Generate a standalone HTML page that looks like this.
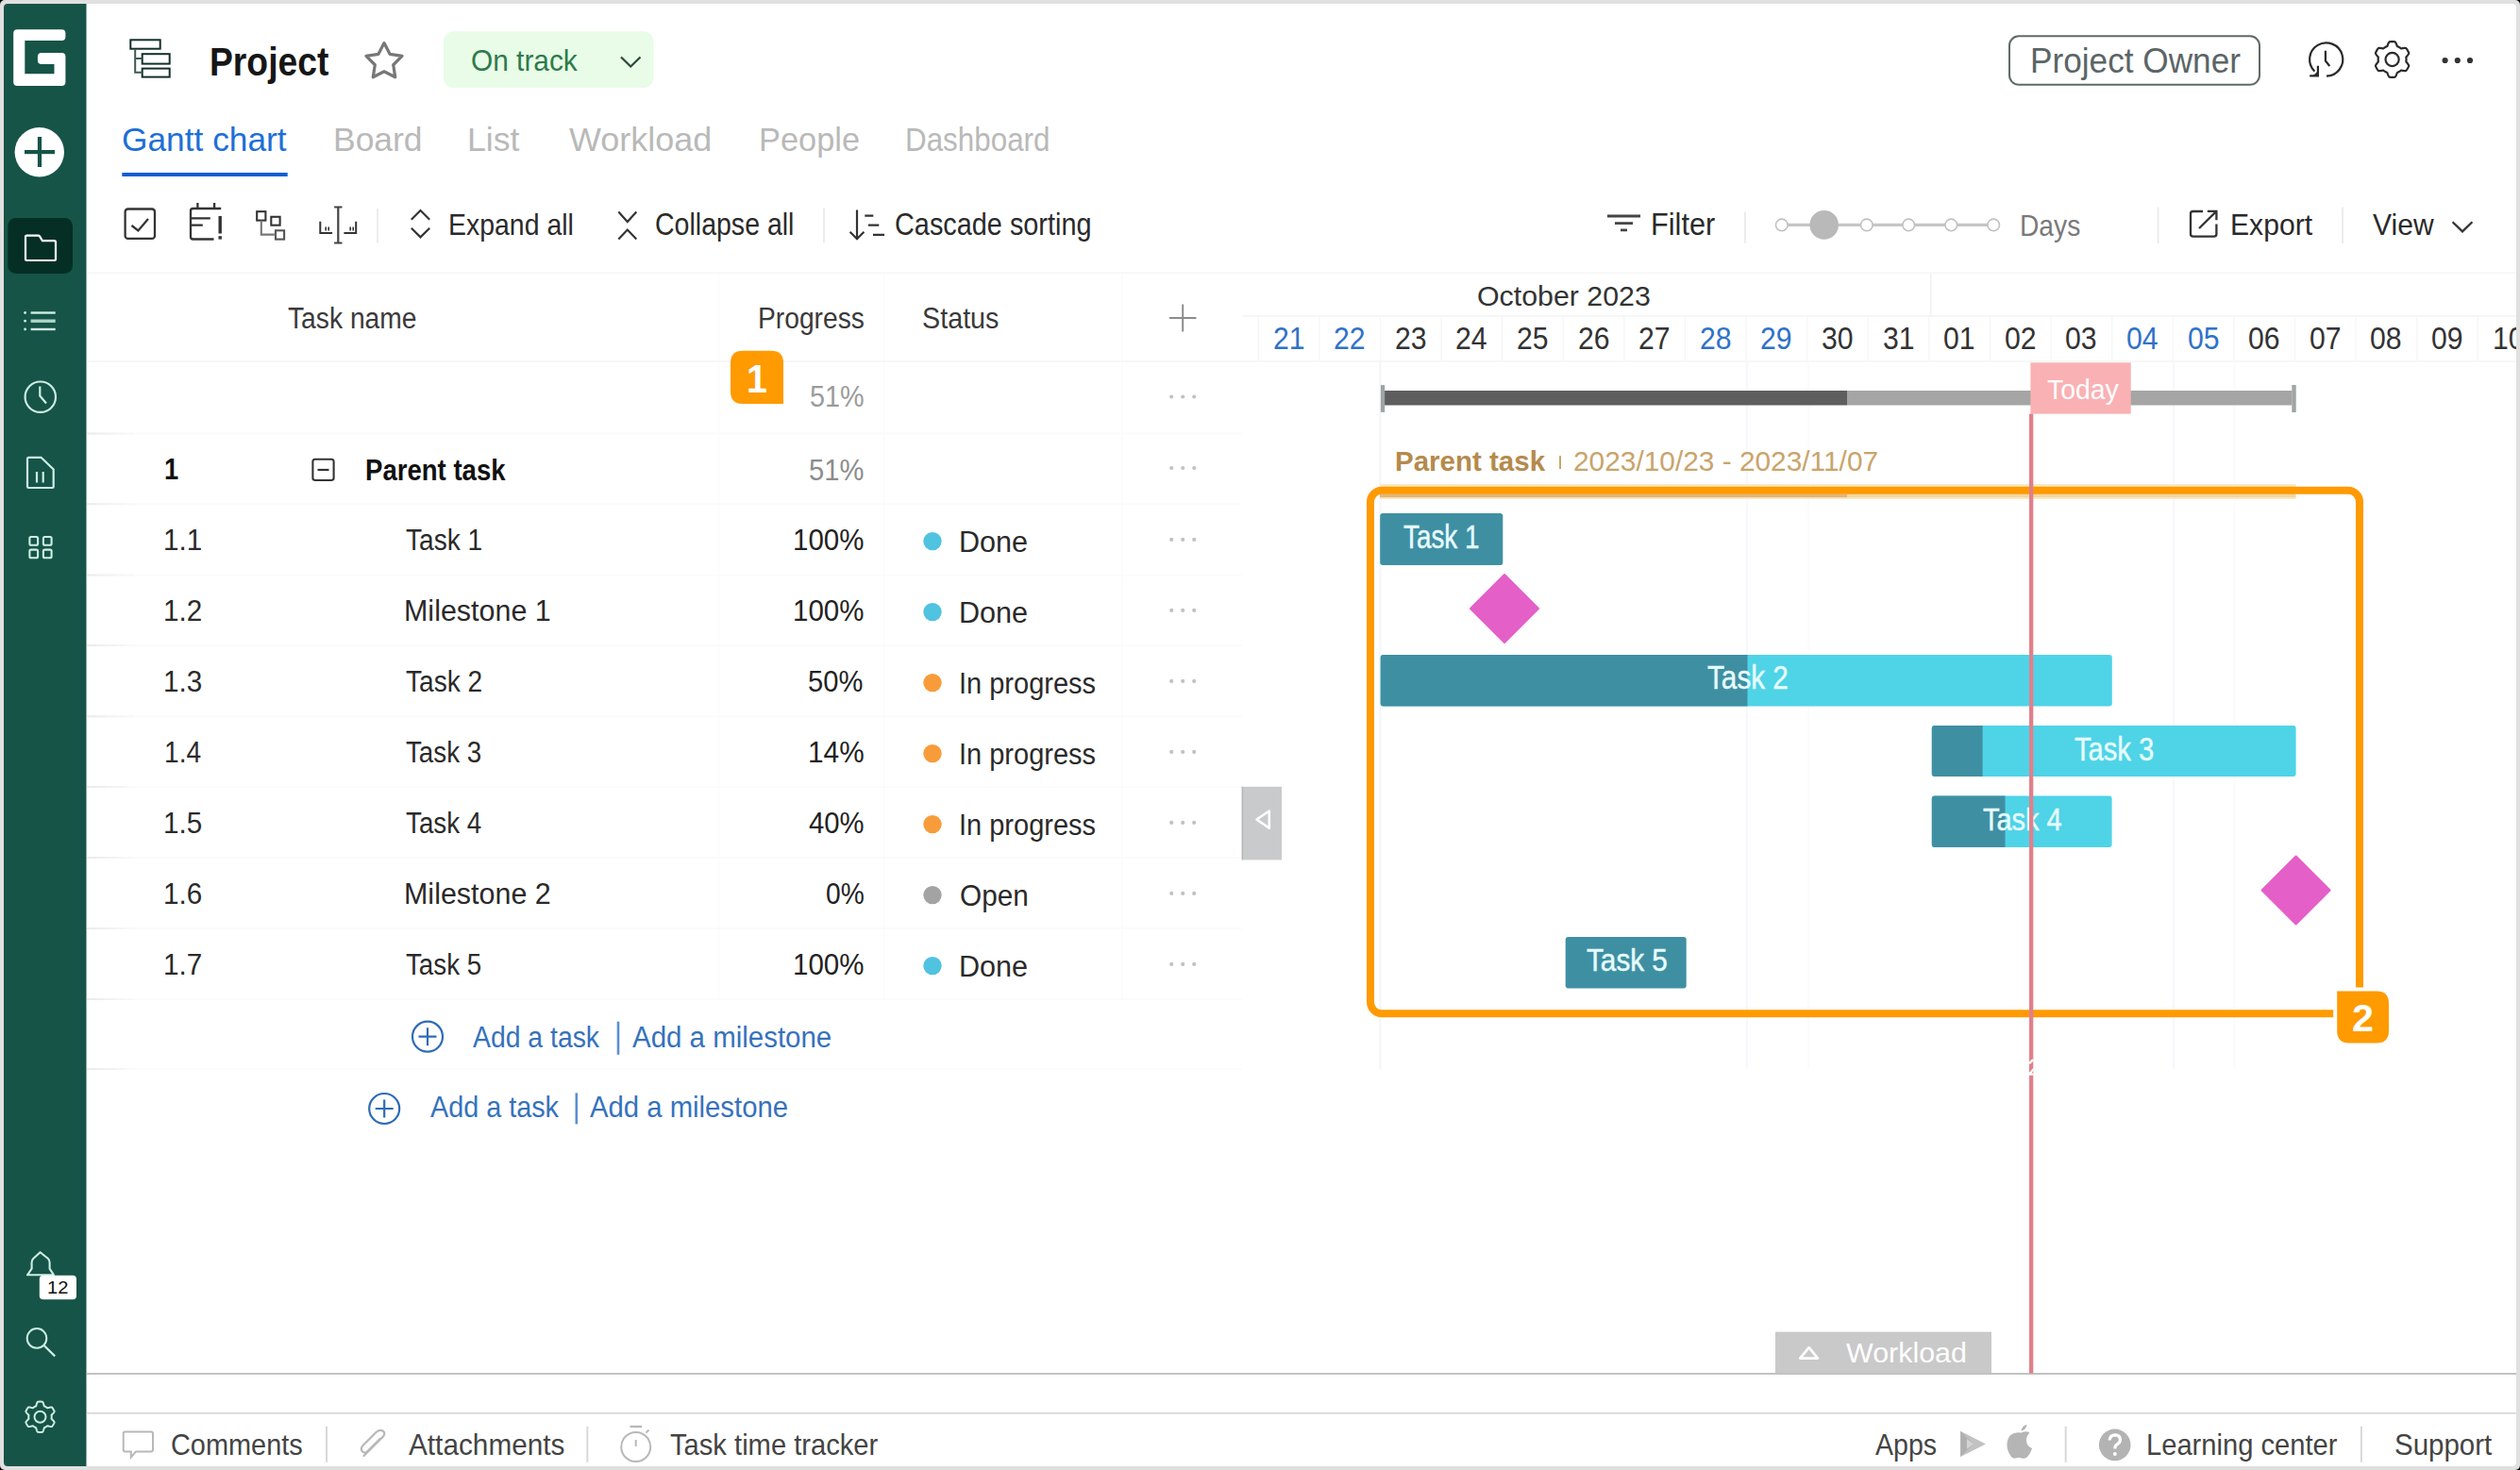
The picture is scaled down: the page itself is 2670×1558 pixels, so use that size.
<!DOCTYPE html>
<html><head><meta charset="utf-8"><title>Gantt</title><style>
*{margin:0;padding:0;box-sizing:border-box}
html,body{width:2670px;height:1558px;overflow:hidden;background:#000}
body{position:relative;font-family:"Liberation Sans",sans-serif}
.a{position:absolute}
.t{position:absolute;white-space:nowrap;line-height:1;transform-origin:0 0}
</style></head><body>
<div class="a" style="left:0;top:0;width:2670px;height:1558px;background:#e0e0e0;border-radius:5px"></div>
<div class="a" style="left:4px;top:4px;width:2662px;height:1550.3px;background:#fff;border-radius:4px"></div>
<svg class="a" style="left:0;top:0" width="2670" height="1558" viewBox="0 0 2670 1558">
<path d="M8,4 H91.5 V1554 H8 Q4,1554 4,1550 V8 Q4,4 8,4 Z" fill="#165447"/>
<path d="M18.2,31.2 H65.4 Q69.4,31.2 69.4,35.2 V39.1 Q69.4,43.1 65.4,43.1 H26.3 V78.3 H57.5 V68.1 H43.9 Q39.9,68.1 39.9,64.1 V60 Q39.9,56 43.9,56 H65.4 Q69.4,56 69.4,60 V87 Q69.4,91 65.4,91 H18.2 Q14.2,91 14.2,87 V35.2 Q14.2,31.2 18.2,31.2 Z" fill="#fff"/>
<circle cx="41.8" cy="161.2" r="26.2" fill="#fff"/>
<rect x="26" y="159" width="32" height="4.2" fill="#165447"/><rect x="39.9" y="145" width="4.2" height="32" fill="#165447"/>
<rect x="8.3" y="231" width="68.7" height="59" rx="8.5" fill="#052f25"/>
<path d="M28.5,249.6 H40.5 Q41.5,249.6 42.2,250.6 L45,255.2 H57.5 Q59,255.2 59,256.7 V274.6 Q59,276 57.5,276 H28.5 Q27,276 27,274.6 V251.1 Q27,249.6 28.5,249.6 Z" fill="none" stroke="#fff" stroke-width="2.2"/>
<circle cx="26.6" cy="331.5" r="1.4" fill="#cdeee4"/>
<circle cx="26.6" cy="340.2" r="1.4" fill="#cdeee4"/>
<circle cx="26.6" cy="349.0" r="1.4" fill="#cdeee4"/>
<line x1="32.6" y1="331.5" x2="58.7" y2="331.5" stroke="#cdeee4" stroke-width="2.4"/>
<line x1="32.6" y1="340.2" x2="58.7" y2="340.2" stroke="#a9d9ca" stroke-width="3.4"/>
<line x1="32.6" y1="349" x2="58.7" y2="349" stroke="#cdeee4" stroke-width="2.4"/>
<circle cx="42.8" cy="420.7" r="16.2" fill="none" stroke="#cdeee4" stroke-width="2.2"/>
<path d="M42.3,409.5 V419.5 L49,427.5" fill="none" stroke="#cdeee4" stroke-width="2.2"/>
<path d="M30.3,484.8 H43.5 L56.7,497.5 V515.6 Q56.7,517 55.3,517 H30.3 Q29,517 29,515.6 V486.2 Q29,484.8 30.3,484.8 Z" fill="none" stroke="#cdeee4" stroke-width="2.2"/>
<line x1="39" y1="500" x2="39" y2="511.5" stroke="#cdeee4" stroke-width="2.2"/><line x1="45.7" y1="500" x2="45.7" y2="511.5" stroke="#cdeee4" stroke-width="2.2"/>
<rect x="31.4" y="569.0" width="8.7" height="8.7" rx="1.5" fill="none" stroke="#cdeee4" stroke-width="2.1"/>
<rect x="45.9" y="569.0" width="8.7" height="8.7" rx="1.5" fill="none" stroke="#cdeee4" stroke-width="2.1"/>
<rect x="31.4" y="582.6" width="8.7" height="8.7" rx="1.5" fill="none" stroke="#cdeee4" stroke-width="2.1"/>
<rect x="45.9" y="582.6" width="8.7" height="8.7" rx="1.5" fill="none" stroke="#cdeee4" stroke-width="2.1"/>
<path d="M42.6,1327.2 L35.2,1334 Q33.6,1335.6 33.6,1338 V1344.6 L29,1351.3 H57 L52.6,1344.6 V1338 Q52.6,1335.6 51,1334 Z" fill="none" stroke="#cdeee4" stroke-width="2.1" stroke-linejoin="round"/>
<rect x="41.8" y="1351.8" width="39.2" height="25.4" rx="4" fill="#fff"/>
<circle cx="39" cy="1418.4" r="10.3" fill="none" stroke="#cdeee4" stroke-width="2"/><line x1="46.4" y1="1425.8" x2="58.2" y2="1437.4" stroke="#cdeee4" stroke-width="2.2"/>
<path d="M42.50,1485.55 L42.78,1485.55 L43.07,1485.56 L43.35,1485.57 L43.63,1485.59 L43.91,1485.61 L44.19,1485.64 L44.47,1485.67 L44.75,1485.71 L45.03,1485.75 L45.28,1485.99 L45.49,1486.37 L45.68,1486.77 L45.86,1487.18 L46.03,1487.61 L46.18,1488.03 L46.31,1488.46 L46.43,1488.89 L46.54,1489.30 L46.65,1489.71 L46.74,1490.10 L46.87,1490.36 L47.07,1490.44 L47.27,1490.52 L47.46,1490.60 L47.66,1490.69 L47.85,1490.78 L48.04,1490.88 L48.23,1490.98 L48.41,1491.08 L48.60,1491.18 L48.78,1491.29 L48.97,1491.40 L49.14,1491.52 L49.32,1491.64 L49.50,1491.76 L49.67,1491.88 L49.84,1492.01 L50.01,1492.14 L50.18,1492.27 L50.47,1492.25 L50.86,1492.14 L51.26,1492.02 L51.67,1491.91 L52.10,1491.81 L52.54,1491.71 L52.99,1491.62 L53.43,1491.56 L53.88,1491.50 L54.32,1491.47 L54.76,1491.47 L55.09,1491.56 L55.27,1491.78 L55.44,1492.00 L55.61,1492.23 L55.77,1492.46 L55.93,1492.69 L56.09,1492.93 L56.24,1493.17 L56.39,1493.41 L56.53,1493.65 L56.67,1493.90 L56.80,1494.14 L56.93,1494.40 L57.06,1494.65 L57.18,1494.90 L57.30,1495.16 L57.41,1495.42 L57.52,1495.68 L57.62,1495.94 L57.54,1496.28 L57.31,1496.65 L57.06,1497.02 L56.80,1497.38 L56.51,1497.73 L56.22,1498.07 L55.91,1498.41 L55.61,1498.72 L55.30,1499.03 L55.00,1499.32 L54.71,1499.60 L54.55,1499.84 L54.58,1500.05 L54.61,1500.26 L54.63,1500.47 L54.65,1500.69 L54.67,1500.90 L54.68,1501.11 L54.69,1501.32 L54.70,1501.54 L54.70,1501.75 L54.70,1501.96 L54.69,1502.18 L54.68,1502.39 L54.67,1502.60 L54.65,1502.81 L54.63,1503.03 L54.61,1503.24 L54.58,1503.45 L54.55,1503.66 L54.71,1503.90 L55.00,1504.18 L55.30,1504.47 L55.61,1504.78 L55.91,1505.09 L56.22,1505.43 L56.51,1505.77 L56.80,1506.12 L57.06,1506.48 L57.31,1506.85 L57.54,1507.22 L57.62,1507.56 L57.52,1507.82 L57.41,1508.08 L57.30,1508.34 L57.18,1508.60 L57.06,1508.85 L56.93,1509.10 L56.80,1509.36 L56.67,1509.60 L56.53,1509.85 L56.39,1510.09 L56.24,1510.33 L56.09,1510.57 L55.93,1510.81 L55.77,1511.04 L55.61,1511.27 L55.44,1511.50 L55.27,1511.72 L55.09,1511.94 L54.76,1512.03 L54.32,1512.03 L53.88,1512.00 L53.43,1511.94 L52.99,1511.88 L52.54,1511.79 L52.10,1511.69 L51.67,1511.59 L51.26,1511.48 L50.86,1511.36 L50.47,1511.25 L50.18,1511.23 L50.01,1511.36 L49.84,1511.49 L49.67,1511.62 L49.50,1511.74 L49.32,1511.86 L49.14,1511.98 L48.97,1512.10 L48.78,1512.21 L48.60,1512.32 L48.41,1512.42 L48.23,1512.52 L48.04,1512.62 L47.85,1512.72 L47.66,1512.81 L47.46,1512.90 L47.27,1512.98 L47.07,1513.06 L46.87,1513.14 L46.74,1513.40 L46.65,1513.79 L46.54,1514.20 L46.43,1514.61 L46.31,1515.04 L46.18,1515.47 L46.03,1515.89 L45.86,1516.32 L45.68,1516.73 L45.49,1517.13 L45.28,1517.51 L45.03,1517.75 L44.75,1517.79 L44.47,1517.83 L44.19,1517.86 L43.91,1517.89 L43.63,1517.91 L43.35,1517.93 L43.07,1517.94 L42.78,1517.95 L42.50,1517.95 L42.22,1517.95 L41.93,1517.94 L41.65,1517.93 L41.37,1517.91 L41.09,1517.89 L40.81,1517.86 L40.53,1517.83 L40.25,1517.79 L39.97,1517.75 L39.72,1517.51 L39.51,1517.13 L39.32,1516.73 L39.14,1516.32 L38.97,1515.89 L38.82,1515.47 L38.69,1515.04 L38.57,1514.61 L38.46,1514.20 L38.35,1513.79 L38.26,1513.40 L38.13,1513.14 L37.93,1513.06 L37.73,1512.98 L37.54,1512.90 L37.34,1512.81 L37.15,1512.72 L36.96,1512.62 L36.77,1512.52 L36.59,1512.42 L36.40,1512.32 L36.22,1512.21 L36.03,1512.10 L35.86,1511.98 L35.68,1511.86 L35.50,1511.74 L35.33,1511.62 L35.16,1511.49 L34.99,1511.36 L34.82,1511.23 L34.53,1511.25 L34.14,1511.36 L33.74,1511.48 L33.33,1511.59 L32.90,1511.69 L32.46,1511.79 L32.01,1511.88 L31.57,1511.94 L31.12,1512.00 L30.68,1512.03 L30.24,1512.03 L29.91,1511.94 L29.73,1511.72 L29.56,1511.50 L29.39,1511.27 L29.23,1511.04 L29.07,1510.81 L28.91,1510.57 L28.76,1510.33 L28.61,1510.09 L28.47,1509.85 L28.33,1509.60 L28.20,1509.36 L28.07,1509.10 L27.94,1508.85 L27.82,1508.60 L27.70,1508.34 L27.59,1508.08 L27.48,1507.82 L27.38,1507.56 L27.46,1507.22 L27.69,1506.85 L27.94,1506.48 L28.20,1506.12 L28.49,1505.77 L28.78,1505.43 L29.09,1505.09 L29.39,1504.78 L29.70,1504.47 L30.00,1504.18 L30.29,1503.90 L30.45,1503.66 L30.42,1503.45 L30.39,1503.24 L30.37,1503.03 L30.35,1502.81 L30.33,1502.60 L30.32,1502.39 L30.31,1502.18 L30.30,1501.96 L30.30,1501.75 L30.30,1501.54 L30.31,1501.32 L30.32,1501.11 L30.33,1500.90 L30.35,1500.69 L30.37,1500.47 L30.39,1500.26 L30.42,1500.05 L30.45,1499.84 L30.29,1499.60 L30.00,1499.32 L29.70,1499.03 L29.39,1498.72 L29.09,1498.41 L28.78,1498.07 L28.49,1497.73 L28.20,1497.38 L27.94,1497.02 L27.69,1496.65 L27.46,1496.28 L27.38,1495.94 L27.48,1495.68 L27.59,1495.42 L27.70,1495.16 L27.82,1494.90 L27.94,1494.65 L28.07,1494.40 L28.20,1494.14 L28.33,1493.90 L28.47,1493.65 L28.61,1493.41 L28.76,1493.17 L28.91,1492.93 L29.07,1492.69 L29.23,1492.46 L29.39,1492.23 L29.56,1492.00 L29.73,1491.78 L29.91,1491.56 L30.24,1491.47 L30.68,1491.47 L31.12,1491.50 L31.57,1491.56 L32.01,1491.62 L32.46,1491.71 L32.90,1491.81 L33.33,1491.91 L33.74,1492.02 L34.14,1492.14 L34.53,1492.25 L34.82,1492.27 L34.99,1492.14 L35.16,1492.01 L35.33,1491.88 L35.50,1491.76 L35.68,1491.64 L35.86,1491.52 L36.03,1491.40 L36.22,1491.29 L36.40,1491.18 L36.59,1491.08 L36.77,1490.98 L36.96,1490.88 L37.15,1490.78 L37.34,1490.69 L37.54,1490.60 L37.73,1490.52 L37.93,1490.44 L38.13,1490.36 L38.26,1490.10 L38.35,1489.71 L38.46,1489.30 L38.57,1488.89 L38.69,1488.46 L38.82,1488.03 L38.97,1487.61 L39.14,1487.18 L39.32,1486.77 L39.51,1486.37 L39.72,1485.99 L39.97,1485.75 L40.25,1485.71 L40.53,1485.67 L40.81,1485.64 L41.09,1485.61 L41.37,1485.59 L41.65,1485.57 L41.93,1485.56 L42.22,1485.55 Z" fill="none" stroke="#cdeee4" stroke-width="2" stroke-linejoin="round"/>
<circle cx="42.5" cy="1501.75" r="6" fill="none" stroke="#cdeee4" stroke-width="2"/>
<rect x="138.3" y="42.3" width="31.4" height="9.4" fill="none" stroke="#13302b" stroke-width="2"/>
<rect x="150.7" y="57.2" width="29" height="10.4" fill="none" stroke="#13302b" stroke-width="2"/>
<rect x="150.7" y="72.6" width="29" height="9" fill="none" stroke="#13302b" stroke-width="2"/>
<path d="M143.2,52.6 V76.8 H150.7 M143.2,62.1 H150.7" fill="none" stroke="#3b5a53" stroke-width="2"/>
<polygon points="407.00,45.60 413.00,57.35 426.02,59.42 416.70,68.75 418.76,81.78 407.00,75.80 395.24,81.78 397.30,68.75 387.98,59.42 401.00,57.35" fill="none" stroke="#777" stroke-width="3.2" stroke-linejoin="round"/>
<rect x="470" y="33.2" width="222.6" height="59.7" rx="11" fill="#e8fce8"/>
<polyline points="658,60.5 668.2,70.5 678.5,60.5" fill="none" stroke="#2b4a3b" stroke-width="2.3"/>
<rect x="2129" y="38.3" width="265" height="51.5" rx="10" fill="none" stroke="#5e6969" stroke-width="2"/>
<path d="M2452.4,75.6 A17.6,17.6 0 1 1 2465,80.6" fill="none" stroke="#2a2a2a" stroke-width="2.2"/>
<path d="M2447.2,80.4 H2455.9 V69.8" fill="none" stroke="#2a2a2a" stroke-width="2.2"/><polygon points="2450.5,80.4 2455.9,80.4 2455.9,75.2" fill="#2a2a2a"/>
<path d="M2463.9,53.8 V64.5 L2468.3,70" fill="none" stroke="#2a2a2a" stroke-width="2.2"/>
<path d="M2534.60,44.10 L2534.93,44.10 L2535.26,44.11 L2535.59,44.13 L2535.92,44.15 L2536.25,44.17 L2536.58,44.20 L2536.90,44.24 L2537.23,44.28 L2537.56,44.33 L2537.85,44.58 L2538.10,44.97 L2538.35,45.38 L2538.57,45.80 L2538.78,46.24 L2538.97,46.68 L2539.15,47.12 L2539.32,47.55 L2539.48,47.99 L2539.63,48.41 L2539.76,48.81 L2539.94,49.09 L2540.18,49.18 L2540.42,49.28 L2540.66,49.39 L2540.90,49.50 L2541.13,49.61 L2541.36,49.72 L2541.60,49.84 L2541.82,49.97 L2542.05,50.10 L2542.27,50.23 L2542.50,50.36 L2542.72,50.50 L2542.93,50.65 L2543.15,50.79 L2543.36,50.95 L2543.57,51.10 L2543.77,51.26 L2543.98,51.42 L2544.31,51.43 L2544.73,51.35 L2545.16,51.27 L2545.62,51.19 L2546.08,51.11 L2546.55,51.05 L2547.03,51.00 L2547.51,50.96 L2547.99,50.95 L2548.46,50.95 L2548.93,50.98 L2549.29,51.11 L2549.49,51.36 L2549.69,51.63 L2549.89,51.89 L2550.08,52.16 L2550.27,52.43 L2550.45,52.71 L2550.63,52.98 L2550.80,53.27 L2550.97,53.55 L2551.13,53.84 L2551.29,54.13 L2551.44,54.42 L2551.59,54.71 L2551.73,55.01 L2551.87,55.31 L2552.00,55.62 L2552.12,55.92 L2552.24,56.23 L2552.17,56.60 L2551.96,57.02 L2551.73,57.43 L2551.48,57.84 L2551.21,58.24 L2550.92,58.63 L2550.63,59.00 L2550.34,59.37 L2550.04,59.72 L2549.75,60.05 L2549.47,60.38 L2549.32,60.67 L2549.35,60.93 L2549.39,61.18 L2549.42,61.44 L2549.44,61.70 L2549.46,61.96 L2549.48,62.22 L2549.49,62.48 L2549.50,62.74 L2549.50,63.00 L2549.50,63.26 L2549.49,63.52 L2549.48,63.78 L2549.46,64.04 L2549.44,64.30 L2549.42,64.56 L2549.39,64.82 L2549.35,65.07 L2549.32,65.33 L2549.47,65.62 L2549.75,65.95 L2550.04,66.28 L2550.34,66.63 L2550.63,67.00 L2550.92,67.37 L2551.21,67.76 L2551.48,68.16 L2551.73,68.57 L2551.96,68.98 L2552.17,69.40 L2552.24,69.77 L2552.12,70.08 L2552.00,70.38 L2551.87,70.69 L2551.73,70.99 L2551.59,71.29 L2551.44,71.58 L2551.29,71.87 L2551.13,72.16 L2550.97,72.45 L2550.80,72.73 L2550.63,73.02 L2550.45,73.29 L2550.27,73.57 L2550.08,73.84 L2549.89,74.11 L2549.69,74.37 L2549.49,74.64 L2549.29,74.89 L2548.93,75.02 L2548.46,75.05 L2547.99,75.05 L2547.51,75.04 L2547.03,75.00 L2546.55,74.95 L2546.08,74.89 L2545.62,74.81 L2545.16,74.73 L2544.73,74.65 L2544.31,74.57 L2543.98,74.58 L2543.77,74.74 L2543.57,74.90 L2543.36,75.05 L2543.15,75.21 L2542.93,75.35 L2542.72,75.50 L2542.50,75.64 L2542.27,75.77 L2542.05,75.90 L2541.82,76.03 L2541.60,76.16 L2541.36,76.28 L2541.13,76.39 L2540.90,76.50 L2540.66,76.61 L2540.42,76.72 L2540.18,76.82 L2539.94,76.91 L2539.76,77.19 L2539.63,77.59 L2539.48,78.01 L2539.32,78.45 L2539.15,78.88 L2538.97,79.32 L2538.78,79.76 L2538.57,80.20 L2538.35,80.62 L2538.10,81.03 L2537.85,81.42 L2537.56,81.67 L2537.23,81.72 L2536.90,81.76 L2536.58,81.80 L2536.25,81.83 L2535.92,81.85 L2535.59,81.87 L2535.26,81.89 L2534.93,81.90 L2534.60,81.90 L2534.27,81.90 L2533.94,81.89 L2533.61,81.87 L2533.28,81.85 L2532.95,81.83 L2532.62,81.80 L2532.30,81.76 L2531.97,81.72 L2531.64,81.67 L2531.35,81.42 L2531.10,81.03 L2530.85,80.62 L2530.63,80.20 L2530.42,79.76 L2530.23,79.32 L2530.05,78.88 L2529.88,78.45 L2529.72,78.01 L2529.57,77.59 L2529.44,77.19 L2529.26,76.91 L2529.02,76.82 L2528.78,76.72 L2528.54,76.61 L2528.30,76.50 L2528.07,76.39 L2527.84,76.28 L2527.60,76.16 L2527.38,76.03 L2527.15,75.90 L2526.93,75.77 L2526.70,75.64 L2526.48,75.50 L2526.27,75.35 L2526.05,75.21 L2525.84,75.05 L2525.63,74.90 L2525.43,74.74 L2525.22,74.58 L2524.89,74.57 L2524.47,74.65 L2524.04,74.73 L2523.58,74.81 L2523.12,74.89 L2522.65,74.95 L2522.17,75.00 L2521.69,75.04 L2521.21,75.05 L2520.74,75.05 L2520.27,75.02 L2519.91,74.89 L2519.71,74.64 L2519.51,74.37 L2519.31,74.11 L2519.12,73.84 L2518.93,73.57 L2518.75,73.29 L2518.57,73.02 L2518.40,72.73 L2518.23,72.45 L2518.07,72.16 L2517.91,71.87 L2517.76,71.58 L2517.61,71.29 L2517.47,70.99 L2517.33,70.69 L2517.20,70.38 L2517.08,70.08 L2516.96,69.77 L2517.03,69.40 L2517.24,68.98 L2517.47,68.57 L2517.72,68.16 L2517.99,67.76 L2518.28,67.37 L2518.57,67.00 L2518.86,66.63 L2519.16,66.28 L2519.45,65.95 L2519.73,65.62 L2519.88,65.33 L2519.85,65.07 L2519.81,64.82 L2519.78,64.56 L2519.76,64.30 L2519.74,64.04 L2519.72,63.78 L2519.71,63.52 L2519.70,63.26 L2519.70,63.00 L2519.70,62.74 L2519.71,62.48 L2519.72,62.22 L2519.74,61.96 L2519.76,61.70 L2519.78,61.44 L2519.81,61.18 L2519.85,60.93 L2519.88,60.67 L2519.73,60.38 L2519.45,60.05 L2519.16,59.72 L2518.86,59.37 L2518.57,59.00 L2518.28,58.63 L2517.99,58.24 L2517.72,57.84 L2517.47,57.43 L2517.24,57.02 L2517.03,56.60 L2516.96,56.23 L2517.08,55.92 L2517.20,55.62 L2517.33,55.31 L2517.47,55.01 L2517.61,54.71 L2517.76,54.42 L2517.91,54.13 L2518.07,53.84 L2518.23,53.55 L2518.40,53.27 L2518.57,52.98 L2518.75,52.71 L2518.93,52.43 L2519.12,52.16 L2519.31,51.89 L2519.51,51.63 L2519.71,51.36 L2519.91,51.11 L2520.27,50.98 L2520.74,50.95 L2521.21,50.95 L2521.69,50.96 L2522.17,51.00 L2522.65,51.05 L2523.12,51.11 L2523.58,51.19 L2524.04,51.27 L2524.47,51.35 L2524.89,51.43 L2525.22,51.42 L2525.43,51.26 L2525.63,51.10 L2525.84,50.95 L2526.05,50.79 L2526.27,50.65 L2526.48,50.50 L2526.70,50.36 L2526.93,50.23 L2527.15,50.10 L2527.38,49.97 L2527.60,49.84 L2527.84,49.72 L2528.07,49.61 L2528.30,49.50 L2528.54,49.39 L2528.78,49.28 L2529.02,49.18 L2529.26,49.09 L2529.44,48.81 L2529.57,48.41 L2529.72,47.99 L2529.88,47.55 L2530.05,47.12 L2530.23,46.68 L2530.42,46.24 L2530.63,45.80 L2530.85,45.38 L2531.10,44.97 L2531.35,44.58 L2531.64,44.33 L2531.97,44.28 L2532.30,44.24 L2532.62,44.20 L2532.95,44.17 L2533.28,44.15 L2533.61,44.13 L2533.94,44.11 L2534.27,44.10 Z" fill="none" stroke="#2a2a2a" stroke-width="2.2" stroke-linejoin="round"/>
<circle cx="2534.6" cy="63" r="7.1" fill="none" stroke="#2a2a2a" stroke-width="2.2"/>
<circle cx="2590.6" cy="64" r="3.1" fill="#333"/>
<circle cx="2603.8" cy="64" r="3.1" fill="#333"/>
<circle cx="2617.0" cy="64" r="3.1" fill="#333"/>
<rect x="129.3" y="183" width="175.4" height="4" fill="#0c5fd2"/>
<rect x="132.6" y="221.5" width="31.4" height="31.4" rx="3" fill="none" stroke="#333" stroke-width="2.3"/>
<polyline points="139.5,239 146.4,244.5 157,232" fill="none" stroke="#333" stroke-width="2.3"/>
<path d="M234.2,221 H204.5 Q202,221 202,223.5 V251 Q202,253.5 204.5,253.5 H226.5 M209.4,215 V221 M227.1,215 V221 M202,231.3 H222.8 M202,238.7 H214.8" fill="none" stroke="#333" stroke-width="2.3"/>
<line x1="233.2" y1="229" x2="233.2" y2="247.5" stroke="#333" stroke-width="3.4"/><rect x="231.5" y="250.2" width="3.4" height="3.4" fill="#333"/>
<rect x="272.2" y="224.2" width="9.2" height="9.4" fill="none" stroke="#333" stroke-width="2.1"/>
<rect x="287.3" y="229.8" width="9.3" height="8.9" fill="none" stroke="#333" stroke-width="2.1"/>
<rect x="292" y="244.3" width="9.1" height="9.3" fill="none" stroke="#555" stroke-width="2.1"/>
<path d="M276.8,233.7 V248.6 H292" fill="none" stroke="#777" stroke-width="2.1"/>
<path d="M354.1,219.5 H362.5 M358.3,219.5 V257.5 M354.1,257.5 H362.5" fill="none" stroke="#444" stroke-width="2.2"/>
<path d="M339.3,234.7 V247 H352.1 M377.2,234.7 V247 H364.4" fill="none" stroke="#333" stroke-width="2"/>
<rect x="344.4" y="240.5" width="1.6" height="4" fill="#333"/>
<rect x="347.4" y="240.5" width="1.6" height="4" fill="#333"/>
<rect x="370.4" y="240.5" width="1.6" height="4" fill="#333"/>
<rect x="373.4" y="240.5" width="1.6" height="4" fill="#333"/>
<polyline points="435.8,232.7 445.5,223 455.2,232.7" fill="none" stroke="#333" stroke-width="2.2"/>
<polyline points="435.8,241.7 445.5,251.4 455.2,241.7" fill="none" stroke="#333" stroke-width="2.2"/>
<polyline points="655.3,224.6 664.8,235 674.3,224.6" fill="none" stroke="#333" stroke-width="2.2"/>
<polyline points="655.3,253.4 664.8,243.6 674.3,253.4" fill="none" stroke="#333" stroke-width="2.2"/>
<path d="M908,222.5 V252.8 M900.6,245.8 L908,253.3 L915.4,245.8 M916.3,228.6 H925.3 M920,238.7 H931.3 M925,248.8 H937" fill="none" stroke="#333" stroke-width="2.2"/>
<line x1="400.0" y1="221.0" x2="400.0" y2="257.5" stroke="#e8e8e8" stroke-width="1.6"/>
<line x1="873.0" y1="220.0" x2="873.0" y2="257.5" stroke="#e8e8e8" stroke-width="1.6"/>
<line x1="1849.0" y1="224.4" x2="1849.0" y2="257.8" stroke="#e8e8e8" stroke-width="1.6"/>
<line x1="2286.6" y1="219.5" x2="2286.6" y2="258.0" stroke="#e8e8e8" stroke-width="1.6"/>
<line x1="2482.0" y1="219.5" x2="2482.0" y2="258.0" stroke="#e8e8e8" stroke-width="1.6"/>
<path d="M1703,229 H1738 M1711,236.7 H1730 M1717,243.8 H1724" fill="none" stroke="#444" stroke-width="2.8"/>
<line x1="1888" y1="238.4" x2="2112" y2="238.4" stroke="#c6c6c6" stroke-width="3.4"/>
<circle cx="1887.8" cy="238.4" r="6.3" fill="#fff" stroke="#c0c0c0" stroke-width="1.6"/>
<circle cx="1977.8" cy="238.4" r="6.3" fill="#fff" stroke="#c0c0c0" stroke-width="1.6"/>
<circle cx="2022.2" cy="238.4" r="6.3" fill="#fff" stroke="#c0c0c0" stroke-width="1.6"/>
<circle cx="2067.3" cy="238.4" r="6.3" fill="#fff" stroke="#c0c0c0" stroke-width="1.6"/>
<circle cx="2112.2" cy="238.4" r="6.3" fill="#fff" stroke="#c0c0c0" stroke-width="1.6"/>
<circle cx="1932.7" cy="238.4" r="15.3" fill="#b9b9b9"/>
<path d="M2334,224 H2323.5 Q2321,224 2321,226.5 V248 Q2321,250.6 2323.5,250.6 H2345.8 Q2348.4,250.6 2348.4,248 V237.5 M2330,242 L2348.4,223.9 M2338.8,223.9 H2348.4 V233.3" fill="none" stroke="#333" stroke-width="2.3"/>
<polyline points="2598.6,235.2 2609,245.4 2619.4,235.2" fill="none" stroke="#333" stroke-width="2.3"/>
<line x1="92" y1="289.2" x2="2666" y2="289.2" stroke="#f7f7f7" stroke-width="2"/>
<line x1="761.4" y1="290" x2="761.4" y2="1059" stroke="#fbfbfb" stroke-width="1.5"/>
<line x1="936.4" y1="290" x2="936.4" y2="1059" stroke="#fbfbfb" stroke-width="1.5"/>
<line x1="1188.8" y1="290" x2="1188.8" y2="1059" stroke="#fbfbfb" stroke-width="1.5"/>
<line x1="92" y1="383.0" x2="2666" y2="383.0" stroke="#f7f7f7" stroke-width="2"/>
<line x1="92" y1="459.5" x2="1316" y2="459.5" stroke="#fbfbfb" stroke-width="2"/>
<rect x="92" y="458.5" width="10" height="2" fill="#ececec"/>
<rect x="102" y="458.5" width="10" height="2" fill="#efefef"/>
<rect x="112" y="458.5" width="10" height="2" fill="#f2f2f2"/>
<rect x="122" y="458.5" width="10" height="2" fill="#f5f5f5"/>
<rect x="132" y="458.5" width="10" height="2" fill="#f8f8f8"/>
<line x1="92" y1="534.2" x2="1316" y2="534.2" stroke="#fbfbfb" stroke-width="2"/>
<rect x="92" y="533.2" width="10" height="2" fill="#ececec"/>
<rect x="102" y="533.2" width="10" height="2" fill="#efefef"/>
<rect x="112" y="533.2" width="10" height="2" fill="#f2f2f2"/>
<rect x="122" y="533.2" width="10" height="2" fill="#f5f5f5"/>
<rect x="132" y="533.2" width="10" height="2" fill="#f8f8f8"/>
<line x1="92" y1="609.5" x2="1316" y2="609.5" stroke="#fbfbfb" stroke-width="2"/>
<rect x="92" y="608.5" width="10" height="2" fill="#ececec"/>
<rect x="102" y="608.5" width="10" height="2" fill="#efefef"/>
<rect x="112" y="608.5" width="10" height="2" fill="#f2f2f2"/>
<rect x="122" y="608.5" width="10" height="2" fill="#f5f5f5"/>
<rect x="132" y="608.5" width="10" height="2" fill="#f8f8f8"/>
<line x1="92" y1="684.0" x2="1316" y2="684.0" stroke="#fbfbfb" stroke-width="2"/>
<rect x="92" y="683.0" width="10" height="2" fill="#ececec"/>
<rect x="102" y="683.0" width="10" height="2" fill="#efefef"/>
<rect x="112" y="683.0" width="10" height="2" fill="#f2f2f2"/>
<rect x="122" y="683.0" width="10" height="2" fill="#f5f5f5"/>
<rect x="132" y="683.0" width="10" height="2" fill="#f8f8f8"/>
<line x1="92" y1="759.3" x2="1316" y2="759.3" stroke="#fbfbfb" stroke-width="2"/>
<rect x="92" y="758.3" width="10" height="2" fill="#ececec"/>
<rect x="102" y="758.3" width="10" height="2" fill="#efefef"/>
<rect x="112" y="758.3" width="10" height="2" fill="#f2f2f2"/>
<rect x="122" y="758.3" width="10" height="2" fill="#f5f5f5"/>
<rect x="132" y="758.3" width="10" height="2" fill="#f8f8f8"/>
<line x1="92" y1="834.0" x2="1316" y2="834.0" stroke="#fbfbfb" stroke-width="2"/>
<rect x="92" y="833.0" width="10" height="2" fill="#ececec"/>
<rect x="102" y="833.0" width="10" height="2" fill="#efefef"/>
<rect x="112" y="833.0" width="10" height="2" fill="#f2f2f2"/>
<rect x="122" y="833.0" width="10" height="2" fill="#f5f5f5"/>
<rect x="132" y="833.0" width="10" height="2" fill="#f8f8f8"/>
<line x1="92" y1="909.0" x2="1316" y2="909.0" stroke="#fbfbfb" stroke-width="2"/>
<rect x="92" y="908.0" width="10" height="2" fill="#ececec"/>
<rect x="102" y="908.0" width="10" height="2" fill="#efefef"/>
<rect x="112" y="908.0" width="10" height="2" fill="#f2f2f2"/>
<rect x="122" y="908.0" width="10" height="2" fill="#f5f5f5"/>
<rect x="132" y="908.0" width="10" height="2" fill="#f8f8f8"/>
<line x1="92" y1="984.0" x2="1316" y2="984.0" stroke="#fbfbfb" stroke-width="2"/>
<rect x="92" y="983.0" width="10" height="2" fill="#ececec"/>
<rect x="102" y="983.0" width="10" height="2" fill="#efefef"/>
<rect x="112" y="983.0" width="10" height="2" fill="#f2f2f2"/>
<rect x="122" y="983.0" width="10" height="2" fill="#f5f5f5"/>
<rect x="132" y="983.0" width="10" height="2" fill="#f8f8f8"/>
<line x1="92" y1="1059.0" x2="1316" y2="1059.0" stroke="#fbfbfb" stroke-width="2"/>
<rect x="92" y="1058.0" width="10" height="2" fill="#ececec"/>
<rect x="102" y="1058.0" width="10" height="2" fill="#efefef"/>
<rect x="112" y="1058.0" width="10" height="2" fill="#f2f2f2"/>
<rect x="122" y="1058.0" width="10" height="2" fill="#f5f5f5"/>
<rect x="132" y="1058.0" width="10" height="2" fill="#f8f8f8"/>
<line x1="92" y1="1133.0" x2="1316" y2="1133.0" stroke="#fbfbfb" stroke-width="2"/>
<rect x="92" y="1132.0" width="10" height="2" fill="#ececec"/>
<rect x="102" y="1132.0" width="10" height="2" fill="#efefef"/>
<rect x="112" y="1132.0" width="10" height="2" fill="#f2f2f2"/>
<rect x="122" y="1132.0" width="10" height="2" fill="#f5f5f5"/>
<rect x="132" y="1132.0" width="10" height="2" fill="#f8f8f8"/>
<path d="M1239,337 H1267.4 M1253.2,322.4 V351.4" stroke="#8c8c8c" stroke-width="2"/>
<rect x="331.4" y="486.8" width="22.2" height="22.2" rx="2.5" fill="none" stroke="#333" stroke-width="2.1"/><line x1="336.5" y1="498" x2="348.5" y2="498" stroke="#333" stroke-width="2.2"/>
<circle cx="1241.2" cy="420.5" r="2.1" fill="#c2c2c2"/>
<circle cx="1253.2" cy="420.5" r="2.1" fill="#c2c2c2"/>
<circle cx="1265.2" cy="420.5" r="2.1" fill="#c2c2c2"/>
<circle cx="1241.2" cy="496.0" r="2.1" fill="#c2c2c2"/>
<circle cx="1253.2" cy="496.0" r="2.1" fill="#c2c2c2"/>
<circle cx="1265.2" cy="496.0" r="2.1" fill="#c2c2c2"/>
<circle cx="1241.2" cy="571.9" r="2.1" fill="#c2c2c2"/>
<circle cx="1253.2" cy="571.9" r="2.1" fill="#c2c2c2"/>
<circle cx="1265.2" cy="571.9" r="2.1" fill="#c2c2c2"/>
<circle cx="1241.2" cy="646.9" r="2.1" fill="#c2c2c2"/>
<circle cx="1253.2" cy="646.9" r="2.1" fill="#c2c2c2"/>
<circle cx="1265.2" cy="646.9" r="2.1" fill="#c2c2c2"/>
<circle cx="1241.2" cy="721.9" r="2.1" fill="#c2c2c2"/>
<circle cx="1253.2" cy="721.9" r="2.1" fill="#c2c2c2"/>
<circle cx="1265.2" cy="721.9" r="2.1" fill="#c2c2c2"/>
<circle cx="1241.2" cy="796.9" r="2.1" fill="#c2c2c2"/>
<circle cx="1253.2" cy="796.9" r="2.1" fill="#c2c2c2"/>
<circle cx="1265.2" cy="796.9" r="2.1" fill="#c2c2c2"/>
<circle cx="1241.2" cy="871.9" r="2.1" fill="#c2c2c2"/>
<circle cx="1253.2" cy="871.9" r="2.1" fill="#c2c2c2"/>
<circle cx="1265.2" cy="871.9" r="2.1" fill="#c2c2c2"/>
<circle cx="1241.2" cy="946.9" r="2.1" fill="#c2c2c2"/>
<circle cx="1253.2" cy="946.9" r="2.1" fill="#c2c2c2"/>
<circle cx="1265.2" cy="946.9" r="2.1" fill="#c2c2c2"/>
<circle cx="1241.2" cy="1021.9" r="2.1" fill="#c2c2c2"/>
<circle cx="1253.2" cy="1021.9" r="2.1" fill="#c2c2c2"/>
<circle cx="1265.2" cy="1021.9" r="2.1" fill="#c2c2c2"/>
<circle cx="988" cy="573.6" r="9.7" fill="#4fc3e0"/>
<circle cx="988" cy="648.6" r="9.7" fill="#4fc3e0"/>
<circle cx="988" cy="723.6" r="9.7" fill="#f89c3b"/>
<circle cx="988" cy="798.6" r="9.7" fill="#f89c3b"/>
<circle cx="988" cy="873.6" r="9.7" fill="#f89c3b"/>
<circle cx="988" cy="948.6" r="9.7" fill="#a3a3a3"/>
<circle cx="988" cy="1023.6" r="9.7" fill="#4fc3e0"/>
<circle cx="453.0" cy="1098.7" r="16" fill="none" stroke="#2d6bb6" stroke-width="2.2"/>
<path d="M443.5,1098.7 H462.5 M453.0,1089.2 V1108.2" stroke="#2d6bb6" stroke-width="2.2"/>
<line x1="655.0" y1="1082.7" x2="655.0" y2="1117.8" stroke="#5a8fd3" stroke-width="2.6"/>
<circle cx="407.2" cy="1175.0" r="16" fill="none" stroke="#2d6bb6" stroke-width="2.2"/>
<path d="M397.7,1175.0 H416.7 M407.2,1165.5 V1184.5" stroke="#2d6bb6" stroke-width="2.2"/>
<line x1="610.8" y1="1158.4" x2="610.8" y2="1191.4" stroke="#5a8fd3" stroke-width="2.6"/>
<path d="M787,371.7 H817 Q830,371.7 830,384.7 V428 H787 Q774,428 774,415 V384.7 Q774,371.7 787,371.7 Z" fill="#ff9a00"/>
<line x1="1316" y1="335" x2="2666" y2="335" stroke="#f6f6f6" stroke-width="2"/>
<line x1="2045.7" y1="290" x2="2045.7" y2="335" stroke="#eef0f3" stroke-width="1.4"/>
<line x1="1333.3" y1="335" x2="1333.3" y2="382" stroke="#f5f6f8" stroke-width="1.4"/>
<line x1="1397.9" y1="335" x2="1397.9" y2="382" stroke="#f5f6f8" stroke-width="1.4"/>
<line x1="1462.5" y1="335" x2="1462.5" y2="382" stroke="#f5f6f8" stroke-width="1.4"/>
<line x1="1527.1" y1="335" x2="1527.1" y2="382" stroke="#f5f6f8" stroke-width="1.4"/>
<line x1="1591.7" y1="335" x2="1591.7" y2="382" stroke="#f5f6f8" stroke-width="1.4"/>
<line x1="1656.3" y1="335" x2="1656.3" y2="382" stroke="#f5f6f8" stroke-width="1.4"/>
<line x1="1720.9" y1="335" x2="1720.9" y2="382" stroke="#f5f6f8" stroke-width="1.4"/>
<line x1="1785.5" y1="335" x2="1785.5" y2="382" stroke="#f5f6f8" stroke-width="1.4"/>
<line x1="1850.1" y1="335" x2="1850.1" y2="382" stroke="#f5f6f8" stroke-width="1.4"/>
<line x1="1914.7" y1="335" x2="1914.7" y2="382" stroke="#f5f6f8" stroke-width="1.4"/>
<line x1="1979.3" y1="335" x2="1979.3" y2="382" stroke="#f5f6f8" stroke-width="1.4"/>
<line x1="2043.9" y1="335" x2="2043.9" y2="382" stroke="#f5f6f8" stroke-width="1.4"/>
<line x1="2108.5" y1="335" x2="2108.5" y2="382" stroke="#f5f6f8" stroke-width="1.4"/>
<line x1="2173.1" y1="335" x2="2173.1" y2="382" stroke="#f5f6f8" stroke-width="1.4"/>
<line x1="2237.7" y1="335" x2="2237.7" y2="382" stroke="#f5f6f8" stroke-width="1.4"/>
<line x1="2302.3" y1="335" x2="2302.3" y2="382" stroke="#f5f6f8" stroke-width="1.4"/>
<line x1="2366.9" y1="335" x2="2366.9" y2="382" stroke="#f5f6f8" stroke-width="1.4"/>
<line x1="2431.5" y1="335" x2="2431.5" y2="382" stroke="#f5f6f8" stroke-width="1.4"/>
<line x1="2496.1" y1="335" x2="2496.1" y2="382" stroke="#f5f6f8" stroke-width="1.4"/>
<line x1="2560.7" y1="335" x2="2560.7" y2="382" stroke="#f5f6f8" stroke-width="1.4"/>
<line x1="2625.3" y1="335" x2="2625.3" y2="382" stroke="#f5f6f8" stroke-width="1.4"/>
<line x1="1462.3" y1="383" x2="1462.3" y2="1133" stroke="#f3f5f7" stroke-width="2"/>
<line x1="1850.7" y1="383" x2="1850.7" y2="1133" stroke="#f4f7fb" stroke-width="2"/>
<line x1="1916.3" y1="383" x2="1916.3" y2="1133" stroke="#f9fbfc" stroke-width="2"/>
<line x1="2302.9" y1="383" x2="2302.9" y2="1133" stroke="#f4f7fb" stroke-width="2"/>
<line x1="2367.5" y1="383" x2="2367.5" y2="1133" stroke="#f9fbfc" stroke-width="2"/>
<rect x="1315.7" y="833.8" width="42.3" height="77.6" fill="#c9cacc"/><line x1="1316.4" y1="833.8" x2="1316.4" y2="911.4" stroke="#b5b6b8" stroke-width="1.4"/>
<polygon points="1331.5,868.5 1344.8,859.5 1344.8,877.8" fill="none" stroke="#fff" stroke-width="2.6" stroke-linejoin="round"/>
<rect x="1467" y="414" width="490" height="15.5" fill="#5e5e5e"/>
<rect x="1957" y="414" width="471.3" height="15.5" fill="#a5a5a5"/>
<rect x="1462.9" y="408.1" width="4.3" height="28.8" fill="#a0a4a5"/><rect x="2428.3" y="408" width="4.4" height="29" fill="#a0a4a5"/>
<rect x="2151.4" y="384.3" width="106.3" height="54.3" fill="#f9b1b4"/>
<line x1="1653" y1="483" x2="1653" y2="497" stroke="#caa66e" stroke-width="2"/>
<rect x="1462" y="513" width="970.5" height="16" fill="#fee9c0"/><rect x="1462" y="523.6" width="495" height="3.6" fill="#dfb57e"/><rect x="1957" y="523.6" width="475.5" height="3.6" fill="#f1d6a6"/>
<rect x="1452" y="519.8" width="1048" height="554.5" rx="12" fill="none" stroke="#ff9a00" stroke-width="8"/>
<rect x="1462.2" y="544.0" width="130.1" height="55.0" rx="3" fill="#3f8fa3"/>
<rect x="1462.7" y="694.0" width="775.1" height="54.5" rx="3" fill="#4fd3e7"/><path d="M1465.7,694.0 H1851.5 V748.5 H1465.7 Q1462.7,748.5 1462.7,745.5 V697.0 Q1462.7,694.0 1465.7,694.0 Z" fill="#3f8fa3"/>
<rect x="2046.8" y="769.0" width="385.8" height="54.0" rx="3" fill="#4fd3e7"/><path d="M2049.8,769.0 H2100.6 V823.0 H2049.8 Q2046.8,823.0 2046.8,820.0 V772.0 Q2046.8,769.0 2049.8,769.0 Z" fill="#3f8fa3"/>
<rect x="2046.8" y="843.5" width="190.8" height="54.5" rx="3" fill="#4fd3e7"/><path d="M2049.8,843.5 H2124.5 V898.0 H2049.8 Q2046.8,898.0 2046.8,895.0 V846.5 Q2046.8,843.5 2049.8,843.5 Z" fill="#3f8fa3"/>
<rect x="1658.7" y="993.0" width="128.0" height="54.5" rx="3" fill="#3f8fa3"/>
<polygon points="1594.0,609.0 1630.0,645.0 1594.0,681.0 1558.0,645.0" fill="#e45fc7" stroke="#e45fc7" stroke-width="2" stroke-linejoin="round"/>
<polygon points="2432.6,907.5 2468.6,943.5 2432.6,979.5 2396.6,943.5" fill="#e45fc7" stroke="#e45fc7" stroke-width="2" stroke-linejoin="round"/>
<rect x="2472.2" y="1046.6" width="62.8" height="62.9" rx="14" fill="#fff"/>
<path d="M2476.2,1050.6 H2518 Q2531,1050.6 2531,1063.6 V1092.5 Q2531,1105.5 2518,1105.5 H2489.2 Q2476.2,1105.5 2476.2,1092.5 Z" fill="#ff9a00"/>
<rect x="1881" y="1411.6" width="229" height="44.4" fill="#c9c9c9"/>
<polygon points="1916.6,1428.2 1926,1439.6 1907.2,1439.6" fill="none" stroke="#fff" stroke-width="2.6" stroke-linejoin="round"/>
<line x1="92" y1="1455.9" x2="2666" y2="1455.9" stroke="#c2c2c2" stroke-width="2"/>
<line x1="92" y1="1497.8" x2="2666" y2="1497.8" stroke="#dadada" stroke-width="2"/>
<path d="M132.5,1517.6 H160.2 Q162,1517.6 162,1519.4 V1536.6 Q162,1538.4 160.2,1538.4 H144 L138.8,1544.6 V1538.4 H132.5 Q130.7,1538.4 130.7,1536.6 V1519.4 Q130.7,1517.6 132.5,1517.6 Z" fill="none" stroke="#b8b8b8" stroke-width="2"/>
<line x1="346.0" y1="1511.8" x2="346.0" y2="1549.8" stroke="#d8d8d8" stroke-width="2"/>
<line x1="622.3" y1="1511.8" x2="622.3" y2="1549.8" stroke="#d8d8d8" stroke-width="2"/>
<line x1="2188.7" y1="1511.8" x2="2188.7" y2="1549.8" stroke="#d8d8d8" stroke-width="2"/>
<line x1="2501.9" y1="1511.8" x2="2501.9" y2="1549.8" stroke="#d8d8d8" stroke-width="2"/>
<path d="M385.5,1543 L405,1523.5 Q409.5,1519 405.5,1516.5 Q402,1514.5 398.5,1518 L384.5,1532 Q381.5,1535 383.8,1538.2 Q386.5,1541 389.5,1538 L402.5,1525" fill="none" stroke="#b8b8b8" stroke-width="2.2" stroke-linecap="round"/>
<circle cx="673.7" cy="1533.5" r="15.5" fill="none" stroke="#b8b8b8" stroke-width="2"/><line x1="667.5" y1="1512" x2="680" y2="1512" stroke="#b8b8b8" stroke-width="2.4"/><line x1="673.7" y1="1526" x2="673.7" y2="1533" stroke="#b8b8b8" stroke-width="2"/><line x1="684.5" y1="1518.5" x2="687.5" y2="1515.5" stroke="#b8b8b8" stroke-width="2"/>
<path d="M2077.2,1516.8 L2104,1530.4 L2077.2,1544 Z" fill="#c2c2c2"/><path d="M2077.2,1516.8 L2091,1530.4 L2077.2,1544 Z" fill="#b0b0b0"/><path d="M2084,1525 L2091,1530.4 L2084,1535.8 Z" fill="#d4d4d4"/>
<path d="M2141.5,1518.5 Q2146.5,1516 2150.5,1518.5 Q2147,1521.5 2147,1527 Q2147.5,1533 2153,1535 Q2151,1541.5 2147,1545 Q2144.5,1546.5 2141.5,1545.2 Q2139,1544.5 2136.5,1545.3 Q2133.5,1546.5 2131,1544 Q2126,1537.5 2126.5,1530 Q2127.5,1521 2134,1519 Q2137.5,1518 2141.5,1518.5 Z M2141.5,1516.8 Q2142,1511.5 2147.5,1509.8 Q2147.2,1515.5 2141.5,1516.8 Z" fill="#b5b5b5"/>
<circle cx="2240.7" cy="1531.4" r="16.8" fill="#b3b3b3"/>
<path d="M2235.2,1526.5 Q2235.5,1520.8 2241,1520.8 Q2246.4,1521 2246.4,1526 Q2246.3,1529.2 2242.8,1531 Q2240.8,1532.3 2240.8,1535.5" fill="none" stroke="#fff" stroke-width="3.2"/><circle cx="2240.8" cy="1541" r="2" fill="#fff"/>
</svg>
<div class="t" id="t0" style="left:222.19px;top:44.00px;font-size:42.75px;color:#161616;font-weight:700;transform:scaleX(0.8720)">Project</div>
<div class="t" id="t1" style="left:499.21px;top:50.00px;font-size:30.73px;color:#2f7a4b;font-weight:400;transform:scaleX(0.9716)">On track</div>
<div class="t" id="t2" style="left:2150.89px;top:47.00px;font-size:36.81px;color:#5b6566;font-weight:400;transform:scaleX(0.9565)">Project Owner</div>
<div class="t" id="t3" style="left:128.93px;top:131.00px;font-size:34.78px;color:#1d6fd6;font-weight:400;transform:scaleX(1.0154)">Gantt chart</div>
<div class="t" id="t4" style="left:352.84px;top:131.00px;font-size:34.78px;color:#b9b9b9;font-weight:400;transform:scaleX(1.0196)">Board</div>
<div class="t" id="t5" style="left:495.30px;top:131.00px;font-size:34.78px;color:#b9b9b9;font-weight:400;transform:scaleX(1.0262)">List</div>
<div class="t" id="t6" style="left:603.47px;top:131.00px;font-size:34.78px;color:#b9b9b9;font-weight:400;transform:scaleX(1.0343)">Workload</div>
<div class="t" id="t7" style="left:803.94px;top:131.00px;font-size:34.78px;color:#b9b9b9;font-weight:400;transform:scaleX(0.9883)">People</div>
<div class="t" id="t8" style="left:959.12px;top:131.00px;font-size:34.78px;color:#b9b9b9;font-weight:400;transform:scaleX(0.9027)">Dashboard</div>
<div class="t" id="t9" style="left:475.29px;top:223.00px;font-size:31.59px;color:#2a2a2a;font-weight:400;transform:scaleX(0.9008)">Expand all</div>
<div class="t" id="t10" style="left:694.20px;top:222.00px;font-size:32.32px;color:#2a2a2a;font-weight:400;transform:scaleX(0.8828)">Collapse all</div>
<div class="t" id="t11" style="left:948.23px;top:222.00px;font-size:32.32px;color:#2a2a2a;font-weight:400;transform:scaleX(0.8929)">Cascade sorting</div>
<div class="t" id="t12" style="left:1749.14px;top:222.00px;font-size:32.32px;color:#2a2a2a;font-weight:400;transform:scaleX(0.9510)">Filter</div>
<div class="t" id="t13" style="left:2140.31px;top:224.00px;font-size:31.16px;color:#7a7a7a;font-weight:400;transform:scaleX(0.9054)">Days</div>
<div class="t" id="t14" style="left:2363.26px;top:223.00px;font-size:31.30px;color:#2a2a2a;font-weight:400;transform:scaleX(0.9622)">Export</div>
<div class="t" id="t15" style="left:2513.98px;top:223.00px;font-size:31.30px;color:#2a2a2a;font-weight:400;transform:scaleX(0.9600)">View</div>
<div class="t" id="t16" style="left:305.39px;top:322.00px;font-size:31.88px;color:#3a3a3a;font-weight:400;transform:scaleX(0.8857)">Task name</div>
<div class="t" id="t17" style="left:802.78px;top:322.00px;font-size:31.30px;color:#3a3a3a;font-weight:400;transform:scaleX(0.9010)">Progress</div>
<div class="t" id="t18" style="left:977.28px;top:322.00px;font-size:31.30px;color:#3a3a3a;font-weight:400;transform:scaleX(0.9182)">Status</div>
<div class="t" id="t19" style="left:858.24px;top:405.00px;font-size:31.01px;color:#9b9b9b;font-weight:400;transform:scaleX(0.9298)">51%</div>
<div class="t" id="t20" style="left:173.94px;top:483.00px;font-size:30.87px;color:#111;font-weight:700;transform:scaleX(0.8844)">1</div>
<div class="t" id="t21" style="left:386.96px;top:483.00px;font-size:30.58px;color:#111;font-weight:700;transform:scaleX(0.9014)">Parent task</div>
<div class="t" id="t22" style="left:857.20px;top:483.00px;font-size:31.88px;color:#8c8c8c;font-weight:400;transform:scaleX(0.9148)">51%</div>
<div class="t" id="t23" style="left:172.62px;top:557.00px;font-size:31.45px;color:#2a2a2a;font-weight:400;transform:scaleX(0.9431)">1.1</div>
<div class="t" id="t24" style="left:429.82px;top:557.00px;font-size:31.45px;color:#2a2a2a;font-weight:400;transform:scaleX(0.8931)">Task 1</div>
<div class="t" id="t25" style="left:840.23px;top:557.00px;font-size:31.45px;color:#222;font-weight:400;transform:scaleX(0.9384)">100%</div>
<div class="t" id="t26" style="left:1016.12px;top:559.00px;font-size:31.45px;color:#2a2a2a;font-weight:400;transform:scaleX(0.9729)">Done</div>
<div class="t" id="t27" style="left:172.64px;top:632.00px;font-size:31.45px;color:#2a2a2a;font-weight:400;transform:scaleX(0.9429)">1.2</div>
<div class="t" id="t28" style="left:427.78px;top:632.00px;font-size:31.45px;color:#2a2a2a;font-weight:400;transform:scaleX(0.9687)">Milestone 1</div>
<div class="t" id="t29" style="left:840.23px;top:632.00px;font-size:31.45px;color:#222;font-weight:400;transform:scaleX(0.9384)">100%</div>
<div class="t" id="t30" style="left:1016.12px;top:634.00px;font-size:31.45px;color:#2a2a2a;font-weight:400;transform:scaleX(0.9729)">Done</div>
<div class="t" id="t31" style="left:172.62px;top:707.00px;font-size:31.45px;color:#2a2a2a;font-weight:400;transform:scaleX(0.9431)">1.3</div>
<div class="t" id="t32" style="left:429.82px;top:707.00px;font-size:31.45px;color:#2a2a2a;font-weight:400;transform:scaleX(0.8931)">Task 2</div>
<div class="t" id="t33" style="left:856.45px;top:707.00px;font-size:31.45px;color:#222;font-weight:400;transform:scaleX(0.9269)">50%</div>
<div class="t" id="t34" style="left:1016.29px;top:709.00px;font-size:31.45px;color:#2a2a2a;font-weight:400;transform:scaleX(0.9222)">In progress</div>
<div class="t" id="t35" style="left:173.70px;top:782.00px;font-size:31.45px;color:#2a2a2a;font-weight:400;transform:scaleX(0.8959)">1.4</div>
<div class="t" id="t36" style="left:429.82px;top:782.00px;font-size:31.45px;color:#2a2a2a;font-weight:400;transform:scaleX(0.8822)">Task 3</div>
<div class="t" id="t37" style="left:856.21px;top:782.00px;font-size:31.45px;color:#222;font-weight:400;transform:scaleX(0.9474)">14%</div>
<div class="t" id="t38" style="left:1016.29px;top:784.00px;font-size:31.45px;color:#2a2a2a;font-weight:400;transform:scaleX(0.9222)">In progress</div>
<div class="t" id="t39" style="left:172.62px;top:857.00px;font-size:31.45px;color:#2a2a2a;font-weight:400;transform:scaleX(0.9431)">1.5</div>
<div class="t" id="t40" style="left:429.83px;top:857.00px;font-size:31.45px;color:#2a2a2a;font-weight:400;transform:scaleX(0.8829)">Task 4</div>
<div class="t" id="t41" style="left:857.17px;top:857.00px;font-size:31.45px;color:#222;font-weight:400;transform:scaleX(0.9320)">40%</div>
<div class="t" id="t42" style="left:1016.29px;top:859.00px;font-size:31.45px;color:#2a2a2a;font-weight:400;transform:scaleX(0.9222)">In progress</div>
<div class="t" id="t43" style="left:172.62px;top:932.00px;font-size:31.45px;color:#2a2a2a;font-weight:400;transform:scaleX(0.9431)">1.6</div>
<div class="t" id="t44" style="left:427.78px;top:932.00px;font-size:31.45px;color:#2a2a2a;font-weight:400;transform:scaleX(0.9687)">Milestone 2</div>
<div class="t" id="t45" style="left:875.24px;top:932.00px;font-size:31.45px;color:#222;font-weight:400;transform:scaleX(0.8968)">0%</div>
<div class="t" id="t46" style="left:1017.13px;top:934.00px;font-size:31.45px;color:#2a2a2a;font-weight:400;transform:scaleX(0.9467)">Open</div>
<div class="t" id="t47" style="left:172.64px;top:1007.00px;font-size:31.45px;color:#2a2a2a;font-weight:400;transform:scaleX(0.9429)">1.7</div>
<div class="t" id="t48" style="left:429.82px;top:1007.00px;font-size:31.45px;color:#2a2a2a;font-weight:400;transform:scaleX(0.8822)">Task 5</div>
<div class="t" id="t49" style="left:840.23px;top:1007.00px;font-size:31.45px;color:#222;font-weight:400;transform:scaleX(0.9384)">100%</div>
<div class="t" id="t50" style="left:1016.12px;top:1009.00px;font-size:31.45px;color:#2a2a2a;font-weight:400;transform:scaleX(0.9729)">Done</div>
<div class="t" id="t51" style="left:500.55px;top:1083.00px;font-size:32.03px;color:#3572bd;font-weight:400;transform:scaleX(0.8859)">Add a task</div>
<div class="t" id="t52" style="left:669.76px;top:1083.00px;font-size:32.03px;color:#3572bd;font-weight:400;transform:scaleX(0.9200)">Add a milestone</div>
<div class="t" id="t53" style="left:455.59px;top:1158.00px;font-size:31.30px;color:#3572bd;font-weight:400;transform:scaleX(0.9195)">Add a task</div>
<div class="t" id="t54" style="left:625.20px;top:1158.00px;font-size:31.30px;color:#3572bd;font-weight:400;transform:scaleX(0.9357)">Add a milestone</div>
<div class="t" id="t55" style="left:1564.68px;top:300.00px;font-size:28.99px;color:#333;font-weight:400;transform:scaleX(1.0469)">October 2023</div>
<div class="t" id="t56" style="left:1348.95px;top:343.00px;font-size:32.32px;color:#2f72c8;font-weight:400;transform:scaleX(0.9348)">21</div>
<div class="t" id="t57" style="left:1412.75px;top:343.00px;font-size:32.32px;color:#2f72c8;font-weight:400;transform:scaleX(0.9348)">22</div>
<div class="t" id="t58" style="left:1477.56px;top:343.00px;font-size:32.32px;color:#333;font-weight:400;transform:scaleX(0.9348)">23</div>
<div class="t" id="t59" style="left:1542.33px;top:343.00px;font-size:32.32px;color:#333;font-weight:400;transform:scaleX(0.9365)">24</div>
<div class="t" id="t60" style="left:1607.16px;top:343.00px;font-size:32.32px;color:#333;font-weight:400;transform:scaleX(0.9348)">25</div>
<div class="t" id="t61" style="left:1671.97px;top:343.00px;font-size:32.32px;color:#333;font-weight:400;transform:scaleX(0.9348)">26</div>
<div class="t" id="t62" style="left:1735.75px;top:343.00px;font-size:32.32px;color:#333;font-weight:400;transform:scaleX(0.9348)">27</div>
<div class="t" id="t63" style="left:1800.56px;top:343.00px;font-size:32.32px;color:#2f72c8;font-weight:400;transform:scaleX(0.9348)">28</div>
<div class="t" id="t64" style="left:1865.36px;top:343.00px;font-size:32.32px;color:#2f72c8;font-weight:400;transform:scaleX(0.9348)">29</div>
<div class="t" id="t65" style="left:1930.16px;top:343.00px;font-size:32.32px;color:#333;font-weight:400;transform:scaleX(0.9348)">30</div>
<div class="t" id="t66" style="left:1994.94px;top:343.00px;font-size:32.32px;color:#333;font-weight:400;transform:scaleX(0.9348)">31</div>
<div class="t" id="t67" style="left:2058.75px;top:343.00px;font-size:32.32px;color:#333;font-weight:400;transform:scaleX(0.9348)">01</div>
<div class="t" id="t68" style="left:2123.56px;top:343.00px;font-size:32.32px;color:#333;font-weight:400;transform:scaleX(0.9348)">02</div>
<div class="t" id="t69" style="left:2188.34px;top:343.00px;font-size:32.32px;color:#333;font-weight:400;transform:scaleX(0.9348)">03</div>
<div class="t" id="t70" style="left:2253.15px;top:343.00px;font-size:32.32px;color:#2f72c8;font-weight:400;transform:scaleX(0.9365)">04</div>
<div class="t" id="t71" style="left:2317.97px;top:343.00px;font-size:32.32px;color:#2f72c8;font-weight:400;transform:scaleX(0.9348)">05</div>
<div class="t" id="t72" style="left:2381.75px;top:343.00px;font-size:32.32px;color:#333;font-weight:400;transform:scaleX(0.9348)">06</div>
<div class="t" id="t73" style="left:2446.56px;top:343.00px;font-size:32.32px;color:#333;font-weight:400;transform:scaleX(0.9348)">07</div>
<div class="t" id="t74" style="left:2511.34px;top:343.00px;font-size:32.32px;color:#333;font-weight:400;transform:scaleX(0.9348)">08</div>
<div class="t" id="t75" style="left:2576.16px;top:343.00px;font-size:32.32px;color:#333;font-weight:400;transform:scaleX(0.9348)">09</div>
<div class="t" id="t76" style="left:2640.76px;top:343.00px;font-size:32.32px;color:#333;font-weight:400;transform:scaleX(0.9348)">10</div>
<div class="t" id="t77" style="left:2169.07px;top:398.00px;font-size:29.86px;color:#ffffff;font-weight:400;transform:scaleX(0.9510)">Today</div>
<div class="t" id="t78" style="left:1478.42px;top:474.00px;font-size:30.00px;color:#b58a4c;font-weight:700;transform:scaleX(0.9836)">Parent task</div>
<div class="t" id="t79" style="left:1667.03px;top:474.00px;font-size:30.00px;color:#c9a46b;font-weight:400;transform:scaleX(0.9950)">2023/10/23 - 2023/11/07</div>
<div class="t" id="t80" style="left:1486.73px;top:552.00px;font-size:34.20px;color:#e6fdff;font-weight:400;transform:scaleX(0.8138);-webkit-text-stroke:0.45px #e6fdff">Task 1</div>
<div class="t" id="t81" style="left:1809.14px;top:701.00px;font-size:34.49px;color:#e6fdff;font-weight:400;transform:scaleX(0.8615);-webkit-text-stroke:0.45px #e6fdff">Task 2</div>
<div class="t" id="t82" style="left:2197.70px;top:777.00px;font-size:34.78px;color:#e6fdff;font-weight:400;transform:scaleX(0.8385);-webkit-text-stroke:0.45px #e6fdff">Task 3</div>
<div class="t" id="t83" style="left:2100.62px;top:852.00px;font-size:33.77px;color:#e6fdff;font-weight:400;transform:scaleX(0.8577);-webkit-text-stroke:0.45px #e6fdff">Task 4</div>
<div class="t" id="t84" style="left:1680.64px;top:1001.00px;font-size:33.48px;color:#e6fdff;font-weight:400;transform:scaleX(0.8878);-webkit-text-stroke:0.45px #e6fdff">Task 5</div>
<div class="t" id="t85" style="left:790.84px;top:381.00px;font-size:42.32px;color:#ffffff;font-weight:700;transform:scaleX(0.9314)">1</div>
<div class="t" id="t86" style="left:2491.62px;top:1059.00px;font-size:40.87px;color:#ffffff;font-weight:700;transform:scaleX(1.0119)">2</div>
<div class="t" id="t87" style="left:49.80px;top:1356.00px;font-size:18.84px;color:#111;font-weight:400;transform:scaleX(1.0654)">12</div>
<div class="t" id="t88" style="left:1956.07px;top:1419.00px;font-size:29.71px;color:#ffffff;font-weight:400;transform:scaleX(1.0235)">Workload</div>
<div class="t" id="t89" style="left:181.22px;top:1516.00px;font-size:31.16px;color:#444;font-weight:400;transform:scaleX(0.9275)">Comments</div>
<div class="t" id="t90" style="left:433.19px;top:1516.00px;font-size:31.16px;color:#444;font-weight:400;transform:scaleX(0.9553)">Attachments</div>
<div class="t" id="t91" style="left:710.01px;top:1516.00px;font-size:31.16px;color:#444;font-weight:400;transform:scaleX(0.9356)">Task time tracker</div>
<div class="t" id="t92" style="left:1987.19px;top:1516.00px;font-size:31.16px;color:#444;font-weight:400;transform:scaleX(0.9165)">Apps</div>
<div class="t" id="t93" style="left:2273.66px;top:1516.00px;font-size:31.16px;color:#444;font-weight:400;transform:scaleX(0.9354)">Learning center</div>
<div class="t" id="t94" style="left:2537.22px;top:1516.00px;font-size:31.16px;color:#444;font-weight:400;transform:scaleX(0.9459)">Support</div>
<svg class="a" style="left:0;top:0" width="2670" height="1558" viewBox="0 0 2670 1558">
<rect x="2150" y="438.6" width="4.3" height="1017" fill="#e0808a"/>
<rect x="2666" y="200" width="4" height="1200" fill="#e0e0e0"/>
<path d="M2149.5,1127.5 Q2151,1122.6 2154.5,1122.6 L2154.5,1125 Q2152.5,1125 2151.8,1127.6 Z M2149.5,1137.6 L2154.5,1131.5 L2154.5,1134.5 L2152.5,1137.6 Z M2149.5,1137.6 H2154.5 V1139.8 H2149.5 Z" fill="#fff"/>
</svg>
</body></html>
